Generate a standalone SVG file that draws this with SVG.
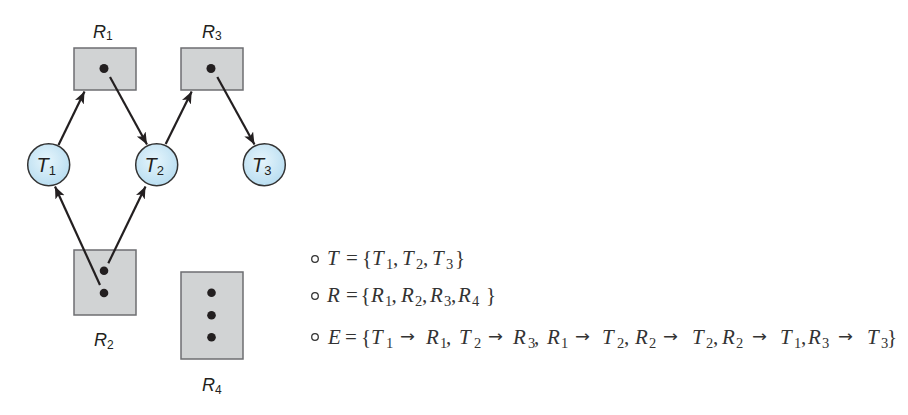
<svg xmlns="http://www.w3.org/2000/svg" width="908" height="415" viewBox="0 0 908 415">
<style>
.box{fill:#d1d3d4;stroke:#6d6e71;stroke-width:1.5}
.proc{fill:url(#pg);stroke:#333;stroke-width:1.5}
.dot{fill:#231f20}
.edge{fill:none;stroke:#231f20;stroke-width:2.2;marker-end:url(#ah)}
.lbl{font-family:"Liberation Sans",Arial,sans-serif;fill:#231f20}
.it{font-style:italic}
.m{font-family:"Liberation Serif","Times New Roman",serif;font-size:21px;fill:#333}
.s{font-size:14.5px;font-style:normal}
.ar{font-family:"DejaVu Sans",sans-serif;font-size:16px}
.bul{fill:none;stroke:#333;stroke-width:1.3}
</style>
<defs>
<radialGradient id="pg" cx="0.45" cy="0.4" r="0.65">
<stop offset="0" stop-color="#e6f5fc"/>
<stop offset="1" stop-color="#b6dcf0"/>
</radialGradient>
<marker id="ah" markerUnits="userSpaceOnUse" markerWidth="14" markerHeight="12" refX="12" refY="5" orient="auto">
<path d="M0,0 L12,5 L0,10 L3,5 z" fill="#231f20"/>
</marker>
</defs>

<g id="R1">
<rect class="box" x="74" y="48" width="62" height="42"/>
<circle class="dot" cx="104" cy="68.5" r="4.5"/>
<text class="lbl" x="93" y="37.5" font-size="18"><tspan class="it">R</tspan><tspan font-size="12" dy="2.5">1</tspan></text>
</g>
<g id="R3">
<rect class="box" x="181" y="48" width="62" height="42"/>
<circle class="dot" cx="211" cy="68.5" r="4.5"/>
<text class="lbl" x="202" y="37.5" font-size="18"><tspan class="it">R</tspan><tspan font-size="12" dy="2.5">3</tspan></text>
</g>
<g id="R2">
<rect class="box" x="74" y="250" width="62" height="65"/>
<circle class="dot" cx="104" cy="270.7" r="4.3"/>
<circle class="dot" cx="104" cy="293" r="4.3"/>
<text class="lbl" x="94" y="346" font-size="18"><tspan class="it">R</tspan><tspan font-size="12" dy="2.5">2</tspan></text>
</g>
<g id="R4">
<rect class="box" x="181" y="272" width="62" height="87"/>
<circle class="dot" cx="211.5" cy="292.7" r="4.3"/>
<circle class="dot" cx="211.5" cy="315.3" r="4.3"/>
<circle class="dot" cx="211.5" cy="337.3" r="4.3"/>
<text class="lbl" x="202" y="391" font-size="18"><tspan class="it">R</tspan><tspan font-size="12" dy="2.5">4</tspan></text>
</g>
<g id="T1">
<circle class="proc" cx="48.7" cy="164.7" r="21"/>
<text class="lbl" x="36.5" y="171.5" font-size="20"><tspan class="it">T</tspan><tspan font-size="13" dy="3.5">1</tspan></text>
</g>
<g id="T2">
<circle class="proc" cx="156.7" cy="164.7" r="21"/>
<text class="lbl" x="144.5" y="171.5" font-size="20"><tspan class="it">T</tspan><tspan font-size="13" dy="3.5">2</tspan></text>
</g>
<g id="T3">
<circle class="proc" cx="264.3" cy="164.7" r="21"/>
<text class="lbl" x="252" y="171.5" font-size="20"><tspan class="it">T</tspan><tspan font-size="13" dy="3.5">3</tspan></text>
</g>

<g id="connectors">
<line class="edge" x1="58.5" y1="145" x2="84.5" y2="91.5"/>
<line class="edge" x1="110" y1="77" x2="147" y2="144.5"/>
<line class="edge" x1="165.7" y1="144" x2="191.7" y2="91.5"/>
<line class="edge" x1="217.3" y1="77" x2="254.5" y2="144.5"/>
<line class="edge" x1="100" y1="285" x2="55" y2="186.5"/>
<line class="edge" x1="108.3" y1="263.3" x2="145.5" y2="186.5"/>
</g>

<g id="definitions">
<circle class="bul" cx="315" cy="259" r="3.3"/>
<circle class="bul" cx="315" cy="296" r="3.3"/>
<circle class="bul" cx="315" cy="337" r="3.3"/>
<text class="m" y="265"><tspan class="it" x="327">T</tspan><tspan x="346">=</tspan><tspan x="362">{</tspan><tspan class="it" x="372">T</tspan><tspan class="s" x="386" y="269">1</tspan><tspan x="393" y="265">,</tspan><tspan class="it" x="402">T</tspan><tspan class="s" x="416" y="269">2</tspan><tspan x="423" y="265">,</tspan><tspan class="it" x="432">T</tspan><tspan class="s" x="446" y="269">3</tspan><tspan x="455" y="265">}</tspan></text>
<text class="m" y="302"><tspan class="it" x="327">R</tspan><tspan x="346">=</tspan><tspan x="360.5">{</tspan><tspan class="it" x="371">R</tspan><tspan class="s" x="385" y="306">1</tspan><tspan x="391.5" y="302">,</tspan><tspan class="it" x="401">R</tspan><tspan class="s" x="415" y="306">2</tspan><tspan x="422" y="302">,</tspan><tspan class="it" x="430">R</tspan><tspan class="s" x="444" y="306">3</tspan><tspan x="451" y="302">,</tspan><tspan class="it" x="458">R</tspan><tspan class="s" x="472" y="306">4</tspan><tspan x="486" y="302">}</tspan></text>
<text class="m" y="343.5"><tspan class="it" x="328">E</tspan><tspan x="345">=</tspan><tspan x="361">{</tspan><tspan class="it" x="371">T</tspan><tspan class="s" x="386" y="347.5">1</tspan><tspan class="ar" x="400" y="342" textLength="15" lengthAdjust="spacingAndGlyphs">→</tspan><tspan class="it" x="426" y="343.5">R</tspan><tspan class="s" x="440" y="347.5">1</tspan><tspan x="446" y="343.5">,</tspan><tspan class="it" x="459">T</tspan><tspan class="s" x="474" y="347.5">2</tspan><tspan class="ar" x="488" y="342" textLength="15" lengthAdjust="spacingAndGlyphs">→</tspan><tspan class="it" x="513" y="343.5">R</tspan><tspan class="s" x="528" y="347.5">3</tspan><tspan x="534" y="343.5">,</tspan><tspan class="it" x="547">R</tspan><tspan class="s" x="561" y="347.5">1</tspan><tspan class="ar" x="575" y="342" textLength="15" lengthAdjust="spacingAndGlyphs">→</tspan><tspan class="it" x="602" y="343.5">T</tspan><tspan class="s" x="617" y="347.5">2</tspan><tspan x="624" y="343.5">,</tspan><tspan class="it" x="635">R</tspan><tspan class="s" x="649" y="347.5">2</tspan><tspan class="ar" x="663" y="342" textLength="15" lengthAdjust="spacingAndGlyphs">→</tspan><tspan class="it" x="692" y="343.5">T</tspan><tspan class="s" x="706" y="347.5">2</tspan><tspan x="713" y="343.5">,</tspan><tspan class="it" x="722">R</tspan><tspan class="s" x="736" y="347.5">2</tspan><tspan class="ar" x="752" y="342" textLength="15" lengthAdjust="spacingAndGlyphs">→</tspan><tspan class="it" x="780" y="343.5">T</tspan><tspan class="s" x="794" y="347.5">1</tspan><tspan x="801" y="343.5">,</tspan><tspan class="it" x="808">R</tspan><tspan class="s" x="822" y="347.5">3</tspan><tspan class="ar" x="838" y="342" textLength="15" lengthAdjust="spacingAndGlyphs">→</tspan><tspan class="it" x="867" y="343.5">T</tspan><tspan class="s" x="881" y="347.5">3</tspan><tspan x="887" y="343.5">}</tspan></text>
</g>
</svg>
